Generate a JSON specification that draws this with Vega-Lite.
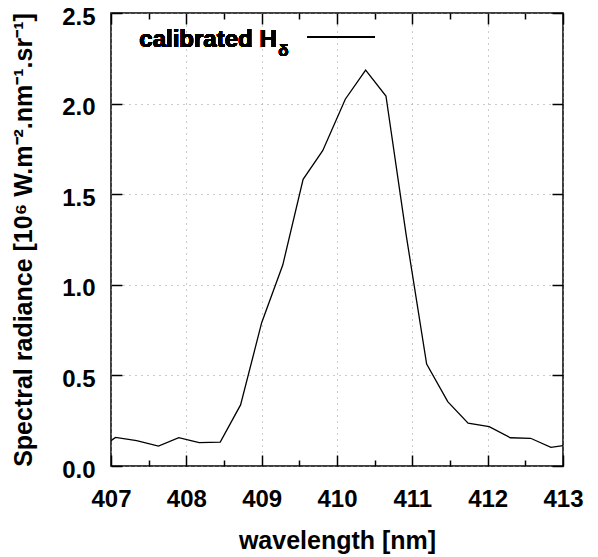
{
  "$schema": "https://vega.github.io/schema/vega-lite/v6.json",
  "autosize": "none",
  "width": 452,
  "height": 453,
  "padding": {"left": 111, "top": 13, "right": 35, "bottom": 91},
  "background": "white",
  "config": {
    "view": {"stroke": "black", "strokeWidth": 1.5},
    "font": "Liberation Sans",
    "axis": {
      "labelFont": "Liberation Sans",
      "labelFontWeight": "bold",
      "labelFontSize": 24,
      "labelColor": "black",
      "titleFont": "Liberation Sans",
      "titleFontWeight": "bold",
      "titleFontSize": 25,
      "titleColor": "black",
      "tickColor": "black",
      "tickWidth": 1.5,
      "domain": false,
      "labelFlush": false
    }
  },
  "data": {
    "values": [
      {"wavelength": 407.00, "radiance": 0.140},
      {"wavelength": 407.06, "radiance": 0.158},
      {"wavelength": 407.34, "radiance": 0.140},
      {"wavelength": 407.63, "radiance": 0.110},
      {"wavelength": 407.90, "radiance": 0.156},
      {"wavelength": 408.17, "radiance": 0.129},
      {"wavelength": 408.45, "radiance": 0.132},
      {"wavelength": 408.72, "radiance": 0.337},
      {"wavelength": 409.00, "radiance": 0.791},
      {"wavelength": 409.28, "radiance": 1.109},
      {"wavelength": 409.55, "radiance": 1.582},
      {"wavelength": 409.81, "radiance": 1.740},
      {"wavelength": 410.11, "radiance": 2.024},
      {"wavelength": 410.38, "radiance": 2.185},
      {"wavelength": 410.65, "radiance": 2.042},
      {"wavelength": 410.92, "radiance": 1.270},
      {"wavelength": 411.19, "radiance": 0.563},
      {"wavelength": 411.47, "radiance": 0.355},
      {"wavelength": 411.74, "radiance": 0.236},
      {"wavelength": 412.02, "radiance": 0.217},
      {"wavelength": 412.30, "radiance": 0.156},
      {"wavelength": 412.57, "radiance": 0.153},
      {"wavelength": 412.84, "radiance": 0.103},
      {"wavelength": 413.00, "radiance": 0.112}
    ]
  },
  "resolve": {"axis": {"x": "independent", "y": "independent"}},
  "layer": [
    {
      "mark": {"type": "line", "color": "black", "strokeWidth": 1.3, "clip": true},
      "encoding": {
        "x": {"field": "wavelength", "type": "quantitative",
              "scale": {"domain": [407, 413], "nice": false, "zero": false},
              "axis": {"orient": "bottom", "title": "wavelength [nm]", "values": [407, 408, 409, 410, 411, 412, 413],
                       "format": "d", "ticks": true, "tickSize": -11, "labelPadding": 32, "titlePadding": 17,
                       "grid": true, "gridColor": "#999999", "gridDash": [1, 5], "gridWidth": 1}},
        "y": {"field": "radiance", "type": "quantitative",
              "scale": {"domain": [0, 2.5], "nice": false, "zero": false},
              "axis": {"orient": "left", "title": "Spectral radiance [10⁶ W.m⁻².nm⁻¹.sr⁻¹]", "values": [0, 0.5, 1, 1.5, 2, 2.5],
                       "format": ".1f", "ticks": true, "tickSize": -11, "labelPadding": 27, "labelOffset": 4, "titlePadding": 25,
                       "grid": true, "gridColor": "#999999", "gridDash": [1, 5], "gridWidth": 1}}
      }
    },
    {
      "mark": {"type": "line", "opacity": 0},
      "encoding": {
        "x": {"field": "wavelength", "type": "quantitative",
              "axis": {"orient": "top", "title": null, "labels": false, "grid": false, "ticks": true, "domain": true, "domainOpacity": 0, "values": [407, 408, 409, 410, 411, 412, 413], "tickSize": -11}},
        "y": {"field": "radiance", "type": "quantitative",
              "axis": {"orient": "right", "title": null, "labels": false, "grid": false, "ticks": true, "domain": true, "domainOpacity": 0, "values": [0, 0.5, 1, 1.5, 2, 2.5], "tickSize": -11}}
      }
    },
    {
      "mark": {"type": "line", "opacity": 0},
      "encoding": {
        "x": {"field": "wavelength", "type": "quantitative",
              "axis": {"orient": "bottom", "title": null, "labels": false, "grid": false, "ticks": true, "domain": true, "domainOpacity": 0, "values": [407.5, 408.5, 409.5, 410.5, 411.5, 412.5], "tickSize": -6}},
        "y": {"field": "radiance", "type": "quantitative", "axis": null}
      }
    },
    {
      "mark": {"type": "line", "opacity": 0},
      "encoding": {
        "x": {"field": "wavelength", "type": "quantitative",
              "axis": {"orient": "top", "title": null, "labels": false, "grid": false, "ticks": true, "domain": true, "domainOpacity": 0, "values": [407.5, 408.5, 409.5, 410.5, 411.5, 412.5], "tickSize": -6}},
        "y": {"field": "radiance", "type": "quantitative", "axis": null}
      }
    },
    {
      "mark": {"type": "text", "text": "calibrated H", "align": "right", "baseline": "alphabetic", "font": "Liberation Sans", "fontWeight": "bold", "fontSize": 24, "color": "black"},
      "encoding": {
        "x": {"datum": 409.2, "type": "quantitative", "axis": null},
        "y": {"datum": 2.312, "type": "quantitative", "axis": null}
      }
    },
    {
      "mark": {"type": "text", "text": "δ", "align": "left", "baseline": "alphabetic", "font": "Liberation Sans", "fontWeight": "bold", "fontSize": 17, "color": "black"},
      "encoding": {
        "x": {"datum": 409.22, "type": "quantitative", "axis": null},
        "y": {"datum": 2.263, "type": "quantitative", "axis": null}
      }
    },
    {
      "mark": {"type": "rule", "color": "black", "strokeWidth": 1.3},
      "encoding": {
        "x": {"datum": 409.61, "type": "quantitative", "axis": null},
        "x2": {"datum": 410.5},
        "y": {"datum": 2.365, "type": "quantitative", "axis": null}
      }
    }
  ]
}
